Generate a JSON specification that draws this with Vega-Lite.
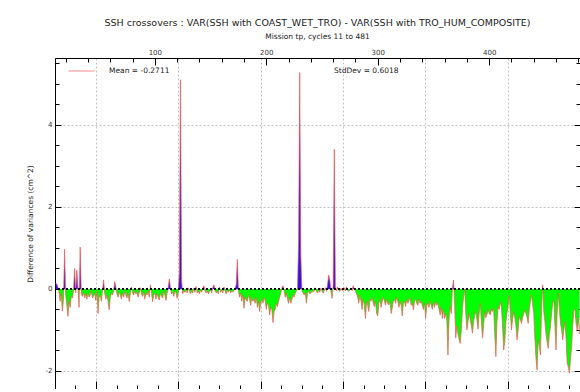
{
  "$schema": "https://vega.github.io/schema/vega-lite/v6.json",
  "width": 525,
  "height": 331,
  "autosize": "none",
  "padding": {"left": 55, "top": 58, "right": 0, "bottom": 0},
  "background": "white",
  "config": {"view": {"stroke": null}, "font": "DejaVu Sans"},
  "title": {
    "text": "SSH crossovers : VAR(SSH with COAST_WET_TRO) - VAR(SSH with TRO_HUM_COMPOSITE)",
    "subtitle": "Mission tp, cycles 11 to 481",
    "font": "DejaVu Sans", "fontSize": 9.5, "fontWeight": "normal", "color": "#222",
    "subtitleFont": "DejaVu Sans", "subtitleFontSize": 7.5, "subtitleColor": "#222",
    "subtitlePadding": 5, "offset": 8, "anchor": "middle"
  },
  "datasets": {
    "ssh": [
      {"c":11,"v":0.14},{"c":12,"v":0.12},{"c":13,"v":0.05},{"c":14,"v":-0.08},{"c":15,"v":-0.3},{"c":16,"v":-0.12},{"c":17,"v":-0.54},{"c":18,"v":-0.25},{"c":19,"v":0.97},{"c":20,"v":-0.15},
      {"c":21,"v":-0.38},{"c":22,"v":-0.67},{"c":23,"v":-0.3},{"c":24,"v":-0.45},{"c":25,"v":-0.18},{"c":26,"v":-0.22},{"c":27,"v":-0.05},{"c":28,"v":0.5},{"c":29,"v":-0.1},{"c":30,"v":0.46},
      {"c":31,"v":0.05},{"c":32,"v":-0.45},{"c":33,"v":1.02},{"c":34,"v":-0.12},{"c":35,"v":-0.18},{"c":36,"v":-0.08},{"c":37,"v":-0.22},{"c":38,"v":-0.12},{"c":39,"v":-0.25},{"c":40,"v":-0.1},
      {"c":41,"v":-0.2},{"c":42,"v":-0.15},{"c":43,"v":-0.05},{"c":44,"v":-0.22},{"c":45,"v":-0.18},{"c":46,"v":-0.1},{"c":47,"v":-0.28},{"c":48,"v":-0.05},{"c":49,"v":-0.6},{"c":50,"v":-0.2},
      {"c":51,"v":-0.15},{"c":52,"v":-0.3},{"c":53,"v":-0.05},{"c":54,"v":0.22},{"c":55,"v":-0.1},{"c":56,"v":-0.25},{"c":57,"v":-0.15},{"c":58,"v":-0.3},{"c":59,"v":-0.51},{"c":60,"v":-0.2},
      {"c":61,"v":-0.1},{"c":62,"v":-0.15},{"c":63,"v":-0.05},{"c":64,"v":0.18},{"c":65,"v":0.05},{"c":66,"v":-0.12},{"c":67,"v":-0.2},{"c":68,"v":-0.08},{"c":69,"v":-0.15},{"c":70,"v":-0.25},
      {"c":71,"v":-0.1},{"c":72,"v":-0.2},{"c":73,"v":-0.05},{"c":74,"v":-0.15},{"c":75,"v":-0.22},{"c":76,"v":-0.1},{"c":77,"v":-0.31},{"c":78,"v":-0.12},{"c":79,"v":0.05},{"c":80,"v":-0.1},
      {"c":81,"v":-0.15},{"c":82,"v":-0.05},{"c":83,"v":-0.12},{"c":84,"v":-0.08},{"c":85,"v":-0.2},{"c":86,"v":-0.1},{"c":87,"v":0.03},{"c":88,"v":-0.12},{"c":89,"v":-0.18},{"c":90,"v":-0.08},
      {"c":91,"v":-0.25},{"c":92,"v":-0.1},{"c":93,"v":-0.15},{"c":94,"v":-0.05},{"c":95,"v":-0.2},{"c":96,"v":0.1},{"c":97,"v":-0.08},{"c":98,"v":-0.31},{"c":99,"v":-0.15},{"c":100,"v":-0.1},
      {"c":101,"v":-0.25},{"c":102,"v":-0.12},{"c":103,"v":-0.2},{"c":104,"v":-0.27},{"c":105,"v":-0.1},{"c":106,"v":-0.18},{"c":107,"v":-0.22},{"c":108,"v":-0.05},{"c":109,"v":-0.15},{"c":110,"v":-0.28},
      {"c":111,"v":-0.1},{"c":112,"v":0.05},{"c":113,"v":0.24},{"c":114,"v":0.02},{"c":115,"v":-0.12},{"c":116,"v":-0.08},{"c":117,"v":-0.18},{"c":118,"v":-0.05},{"c":119,"v":-0.1},{"c":120,"v":-0.23},
      {"c":121,"v":-0.1},{"c":122,"v":0.4},{"c":123,"v":5.1},{"c":124,"v":0.2},{"c":125,"v":-0.12},{"c":126,"v":-0.05},{"c":127,"v":-0.08},{"c":128,"v":-0.03},{"c":129,"v":-0.1},{"c":130,"v":0.03},
      {"c":131,"v":-0.06},{"c":132,"v":-0.12},{"c":133,"v":-0.04},{"c":134,"v":-0.1},{"c":135,"v":0.02},{"c":136,"v":-0.08},{"c":137,"v":0.06},{"c":138,"v":-0.1},{"c":139,"v":-0.05},{"c":140,"v":-0.12},
      {"c":141,"v":-0.03},{"c":142,"v":-0.08},{"c":143,"v":0.02},{"c":144,"v":0.08},{"c":145,"v":-0.05},{"c":146,"v":-0.1},{"c":147,"v":-0.04},{"c":148,"v":-0.12},{"c":149,"v":-0.06},{"c":150,"v":-0.02},
      {"c":151,"v":-0.1},{"c":152,"v":0.03},{"c":153,"v":0.1},{"c":154,"v":-0.04},{"c":155,"v":-0.1},{"c":156,"v":-0.06},{"c":157,"v":-0.12},{"c":158,"v":0.05},{"c":159,"v":-0.08},{"c":160,"v":-0.03},
      {"c":161,"v":-0.1},{"c":162,"v":0.05},{"c":163,"v":-0.05},{"c":164,"v":-0.12},{"c":165,"v":-0.04},{"c":166,"v":-0.08},{"c":167,"v":-0.02},{"c":168,"v":-0.1},{"c":169,"v":-0.05},{"c":170,"v":-0.08},
      {"c":171,"v":-0.03},{"c":172,"v":0.02},{"c":173,"v":0.1},{"c":174,"v":0.72},{"c":175,"v":-0.05},{"c":176,"v":-0.2},{"c":177,"v":-0.1},{"c":178,"v":-0.3},{"c":179,"v":-0.15},{"c":180,"v":-0.47},
      {"c":181,"v":-0.2},{"c":182,"v":-0.28},{"c":183,"v":-0.3},{"c":184,"v":-0.15},{"c":185,"v":-0.25},{"c":186,"v":-0.4},{"c":187,"v":-0.2},{"c":188,"v":-0.3},{"c":189,"v":-0.25},{"c":190,"v":-0.35},
      {"c":191,"v":-0.2},{"c":192,"v":-0.45},{"c":193,"v":-0.3},{"c":194,"v":-0.55},{"c":195,"v":-0.35},{"c":196,"v":-0.25},{"c":197,"v":-0.35},{"c":198,"v":-0.2},{"c":199,"v":-0.3},{"c":200,"v":-0.5},
      {"c":201,"v":-0.35},{"c":202,"v":-0.4},{"c":203,"v":-0.63},{"c":204,"v":-0.45},{"c":205,"v":-0.5},{"c":206,"v":-0.82},{"c":207,"v":-0.55},{"c":208,"v":-0.5},{"c":209,"v":-0.35},{"c":210,"v":-0.43},
      {"c":211,"v":-0.3},{"c":212,"v":-0.2},{"c":213,"v":-0.1},{"c":214,"v":0.02},{"c":215,"v":0.08},{"c":216,"v":-0.05},{"c":217,"v":-0.2},{"c":218,"v":-0.1},{"c":219,"v":-0.25},{"c":220,"v":-0.35},
      {"c":221,"v":-0.2},{"c":222,"v":-0.35},{"c":223,"v":-0.25},{"c":224,"v":-0.15},{"c":225,"v":-0.2},{"c":226,"v":-0.1},{"c":227,"v":-0.05},{"c":228,"v":-0.02},{"c":229,"v":1.2},{"c":230,"v":5.28},
      {"c":231,"v":0.8},{"c":232,"v":-0.05},{"c":233,"v":-0.1},{"c":234,"v":-0.15},{"c":235,"v":-0.1},{"c":236,"v":-0.35},{"c":237,"v":-0.1},{"c":238,"v":-0.05},{"c":239,"v":-0.12},{"c":240,"v":-0.1},
      {"c":241,"v":-0.04},{"c":242,"v":-0.08},{"c":243,"v":-0.05},{"c":244,"v":0.03},{"c":245,"v":-0.06},{"c":246,"v":-0.1},{"c":247,"v":-0.03},{"c":248,"v":-0.08},{"c":249,"v":0.02},{"c":250,"v":-0.05},
      {"c":251,"v":-0.1},{"c":252,"v":-0.04},{"c":253,"v":0.03},{"c":254,"v":-0.06},{"c":255,"v":0.12},{"c":256,"v":0.34},{"c":257,"v":0.22},{"c":258,"v":-0.05},{"c":259,"v":-0.23},{"c":260,"v":0.1},
      {"c":261,"v":3.41},{"c":262,"v":0.05},{"c":263,"v":-0.05},{"c":264,"v":0.05},{"c":265,"v":-0.03},{"c":266,"v":-0.06},{"c":267,"v":0.02},{"c":268,"v":-0.04},{"c":269,"v":-0.02},{"c":270,"v":0.03},
      {"c":271,"v":-0.05},{"c":272,"v":0.05},{"c":273,"v":-0.03},{"c":274,"v":-0.06},{"c":275,"v":-0.02},{"c":276,"v":0.02},{"c":277,"v":-0.04},{"c":278,"v":0.08},{"c":279,"v":-0.02},{"c":280,"v":-0.05},
      {"c":281,"v":-0.12},{"c":282,"v":-0.2},{"c":283,"v":-0.35},{"c":284,"v":-0.15},{"c":285,"v":-0.3},{"c":286,"v":-0.5},{"c":287,"v":-0.25},{"c":288,"v":-0.4},{"c":289,"v":-0.72},{"c":290,"v":-0.3},
      {"c":291,"v":-0.4},{"c":292,"v":-0.55},{"c":293,"v":-0.25},{"c":294,"v":-0.3},{"c":295,"v":-0.2},{"c":296,"v":-0.35},{"c":297,"v":-0.43},{"c":298,"v":-0.3},{"c":299,"v":-0.6},{"c":300,"v":-0.66},
      {"c":301,"v":-0.35},{"c":302,"v":-0.25},{"c":303,"v":-0.45},{"c":304,"v":-0.3},{"c":305,"v":-0.2},{"c":306,"v":-0.3},{"c":307,"v":-0.4},{"c":308,"v":-0.25},{"c":309,"v":-0.35},{"c":310,"v":-0.39},
      {"c":311,"v":-0.3},{"c":312,"v":-0.6},{"c":313,"v":-0.47},{"c":314,"v":-0.3},{"c":315,"v":-0.25},{"c":316,"v":-0.35},{"c":317,"v":-0.2},{"c":318,"v":-0.3},{"c":319,"v":-0.45},{"c":320,"v":-0.3},
      {"c":321,"v":-0.4},{"c":322,"v":-0.66},{"c":323,"v":-0.35},{"c":324,"v":-0.3},{"c":325,"v":-0.43},{"c":326,"v":-0.25},{"c":327,"v":-0.35},{"c":328,"v":-0.3},{"c":329,"v":-0.2},{"c":330,"v":-0.4},
      {"c":331,"v":-0.35},{"c":332,"v":-0.51},{"c":333,"v":-0.3},{"c":334,"v":-0.25},{"c":335,"v":-0.35},{"c":336,"v":-0.4},{"c":337,"v":-0.25},{"c":338,"v":-0.35},{"c":339,"v":-0.3},{"c":340,"v":-0.4},
      {"c":341,"v":-0.5},{"c":342,"v":-0.35},{"c":343,"v":-0.72},{"c":344,"v":-0.4},{"c":345,"v":-0.35},{"c":346,"v":-0.45},{"c":347,"v":-0.3},{"c":348,"v":-0.4},{"c":349,"v":-0.5},{"c":350,"v":-0.35},
      {"c":351,"v":-0.45},{"c":352,"v":-0.3},{"c":353,"v":-0.4},{"c":354,"v":-0.35},{"c":355,"v":-0.5},{"c":356,"v":-0.63},{"c":357,"v":-0.45},{"c":358,"v":-0.72},{"c":359,"v":-0.5},{"c":360,"v":-0.72},
      {"c":361,"v":-0.6},{"c":362,"v":-0.76},{"c":363,"v":-1.61},{"c":364,"v":-0.75},{"c":365,"v":-0.43},{"c":366,"v":-0.6},{"c":367,"v":0.0},{"c":368,"v":0.22},{"c":369,"v":-0.4},{"c":370,"v":-1.2},
      {"c":371,"v":-0.9},{"c":372,"v":-1.1},{"c":373,"v":-1.24},{"c":374,"v":-1.33},{"c":375,"v":-1.0},{"c":376,"v":-0.5},{"c":377,"v":-0.2},{"c":378,"v":0.0},{"c":379,"v":-0.6},{"c":380,"v":-1.0},
      {"c":381,"v":-0.8},{"c":382,"v":-0.6},{"c":383,"v":-0.75},{"c":384,"v":-0.9},{"c":385,"v":-1.08},{"c":386,"v":-0.8},{"c":387,"v":-0.65},{"c":388,"v":-0.55},{"c":389,"v":-0.75},{"c":390,"v":-0.98},
      {"c":391,"v":-0.6},{"c":392,"v":-0.35},{"c":393,"v":-0.8},{"c":394,"v":-1.2},{"c":395,"v":-0.9},{"c":396,"v":-0.55},{"c":397,"v":-0.7},{"c":398,"v":-0.63},{"c":399,"v":-0.5},{"c":400,"v":-0.6},
      {"c":401,"v":-0.63},{"c":402,"v":-0.5},{"c":403,"v":-0.55},{"c":404,"v":-0.47},{"c":405,"v":-1.1},{"c":406,"v":-1.65},{"c":407,"v":-0.8},{"c":408,"v":-0.43},{"c":409,"v":-0.5},{"c":410,"v":-0.31},
      {"c":411,"v":-0.45},{"c":412,"v":-0.9},{"c":413,"v":-1.49},{"c":414,"v":-1.3},{"c":415,"v":-0.8},{"c":416,"v":-0.59},{"c":417,"v":-0.4},{"c":418,"v":-0.15},{"c":419,"v":-0.6},{"c":420,"v":-1.0},
      {"c":421,"v":-0.75},{"c":422,"v":-0.55},{"c":423,"v":-0.7},{"c":424,"v":-0.9},{"c":425,"v":-1.24},{"c":426,"v":-1.0},{"c":427,"v":-0.67},{"c":428,"v":-0.75},{"c":429,"v":-0.84},{"c":430,"v":-0.7},
      {"c":431,"v":-0.6},{"c":432,"v":-0.51},{"c":433,"v":-0.6},{"c":434,"v":-0.7},{"c":435,"v":-0.84},{"c":436,"v":-0.5},{"c":437,"v":-0.3},{"c":438,"v":-0.15},{"c":439,"v":-0.39},{"c":440,"v":-0.6},
      {"c":441,"v":-1.2},{"c":442,"v":-1.7},{"c":443,"v":-1.98},{"c":444,"v":-1.24},{"c":445,"v":-1.4},{"c":446,"v":-1.61},{"c":447,"v":-0.5},{"c":448,"v":0.1},{"c":449,"v":-0.55},{"c":450,"v":-0.8},
      {"c":451,"v":-1.1},{"c":452,"v":-1.3},{"c":453,"v":-1.45},{"c":454,"v":-1.1},{"c":455,"v":-0.92},{"c":456,"v":-0.6},{"c":457,"v":-0.35},{"c":458,"v":-0.27},{"c":459,"v":-0.9},{"c":460,"v":-1.49},
      {"c":461,"v":-0.6},{"c":462,"v":-0.1},{"c":463,"v":-0.5},{"c":464,"v":-0.84},{"c":465,"v":-1.0},{"c":466,"v":-1.24},{"c":467,"v":-1.0},{"c":468,"v":-0.8},{"c":469,"v":-1.2},{"c":470,"v":-1.81},
      {"c":471,"v":-1.9},{"c":472,"v":-2.05},{"c":473,"v":-1.7},{"c":474,"v":-1.4},{"c":475,"v":-0.9},{"c":476,"v":-0.51},{"c":477,"v":-0.5},{"c":478,"v":-0.84},{"c":479,"v":-1.0},{"c":480,"v":-0.7},
      {"c":481,"v":-1.1}
    ]
  },
  "data": {"name": "ssh"},
  "layer": [
    {
      "mark": {"type": "line", "opacity": 0},
      "encoding": {
        "x": {
          "field": "c", "type": "quantitative",
          "scale": {"domain": [10.4, 481.5], "nice": false, "zero": false},
          "axis": {
            "orient": "bottom", "offset": 0, "title": null, "labels": false, "domain": false,
            "values": [47.2,121.1,194.9,268.8,342.7,416.6],
            "tickColor": "black", "tickSize": -8,
            "grid": true, "gridColor": "#c2c2c2", "gridDash": [2, 2]
          }
        },
        "y": {
          "field": "v", "type": "quantitative",
          "scale": {"domain": [-2.44, 5.634], "nice": false, "zero": false},
          "axis": {
            "orient": "left", "offset": 0,
            "values": [-2, 0, 2, 4],
            "labelExpr": "'' + datum.value",
            "labelOverlap": false,
            "labelFont": "DejaVu Sans", "labelFontSize": 7, "labelColor": "#333",
            "labelPadding": 9, "domain": false,
            "tickColor": "black", "tickSize": -6,
            "grid": true, "gridColor": "#c2c2c2", "gridDash": [2, 2],
            "title": "Difference of variances (cm^2)",
            "titleFont": "DejaVu Sans", "titleFontSize": 7.5, "titleFontWeight": "normal", "titleColor": "#222",
            "titlePadding": 11
          }
        }
      }
    },
    {
      "mark": {
        "type": "area",
        "color": {
          "gradient": "linear", "x1": 0, "y1": 0, "x2": 0, "y2": 1,
          "stops": [
            {"offset": 0, "color": "#2a14f0"},
            {"offset": 0.7203, "color": "#2a14f0"},
            {"offset": 0.7203, "color": "#00ff00"},
            {"offset": 1, "color": "#00ff00"}
          ]
        }
      },
      "encoding": {
        "x": {
          "field": "c", "type": "quantitative",
          "axis": {
            "orient": "bottom", "offset": 0, "title": null, "labels": false, "grid": false,
            "values": [28.7,47.2,65.7,84.1,102.6,121.1,139.5,158.0,176.5,194.9,213.4,231.9,250.3,268.8,287.3,305.7,324.2,342.7,361.1,379.6,398.1,416.6,435.0,453.5,472.0],
            "domainColor": "black", "tickColor": "black", "tickSize": -4
          }
        },
        "y": {
          "field": "v", "type": "quantitative",
          "axis": {
            "orient": "left", "offset": 0, "title": null, "labels": false, "grid": false,
            "values": [-2,-1.5,-1,-0.5,0,0.5,1,1.5,2,2.5,3,3.5,4,4.5,5,5.5],
            "domainColor": "black", "tickColor": "black", "tickSize": -4
          }
        },
        "y2": {"datum": 0}
      }
    },
    {
      "mark": {"type": "line", "strokeWidth": 0.7},
      "encoding": {
        "x": {
          "field": "c", "type": "quantitative",
          "axis": {
            "orient": "top", "offset": 0, "title": null, "labels": false, "grid": false,
            "values": [20,40,60,80,120,140,160,180,220,240,260,280,320,340,360,380,420,440,460,480],
            "domainColor": "black", "tickColor": "black", "tickSize": -4
          }
        },
        "y": {
          "field": "v", "type": "quantitative",
          "axis": {
            "orient": "right", "offset": 0, "title": null, "labels": false, "grid": false,
            "values": [-1.5,-1,-0.5,0.5,1,1.5,2.5,3,3.5,4.5,5,5.5],
            "domainColor": "black", "tickColor": "black", "tickSize": -4
          }
        },
        "color": {
          "datum": "Mean = -0.2711",
          "scale": {"domain": ["Mean = -0.2711", "StdDev = 0.6018"], "range": ["#f05a52", "rgba(0,0,0,0)"]},
          "legend": {
            "orient": "none", "legendX": 13, "legendY": -0.5,
            "direction": "horizontal", "columns": 2, "columnPadding": 122,
            "title": null, "symbolType": "stroke", "symbolSize": 676, "symbolStrokeWidth": 0.7,
            "labelFont": "DejaVu Sans", "labelFontSize": 7.5, "labelColor": "#222",
            "labelOffset": 14, "padding": 0
          }
        }
      }
    },
    {
      "mark": {"type": "line", "opacity": 0},
      "encoding": {
        "x": {
          "field": "c", "type": "quantitative",
          "axis": {
            "orient": "top", "offset": 0, "title": null, "grid": false, "domain": false,
            "values": [100, 200, 300, 400],
            "labelFont": "DejaVu Sans", "labelFontSize": 7, "labelColor": "#333",
            "labelPadding": 10, "labelOverlap": false,
            "tickColor": "black", "tickSize": -7
          }
        },
        "y": {
          "field": "v", "type": "quantitative",
          "axis": {
            "orient": "right", "offset": 0, "title": null, "labels": false, "grid": false, "domain": false,
            "values": [-2, 0, 2, 4],
            "tickColor": "black", "tickSize": -6
          }
        }
      }
    },
    {
      "mark": {"type": "rule", "color": "black", "strokeDash": [2, 2], "strokeWidth": 1},
      "encoding": {"y": {"datum": 0, "type": "quantitative", "axis": null}}
    }
  ],
  "resolve": {"axis": {"x": "independent", "y": "independent"}}
}
